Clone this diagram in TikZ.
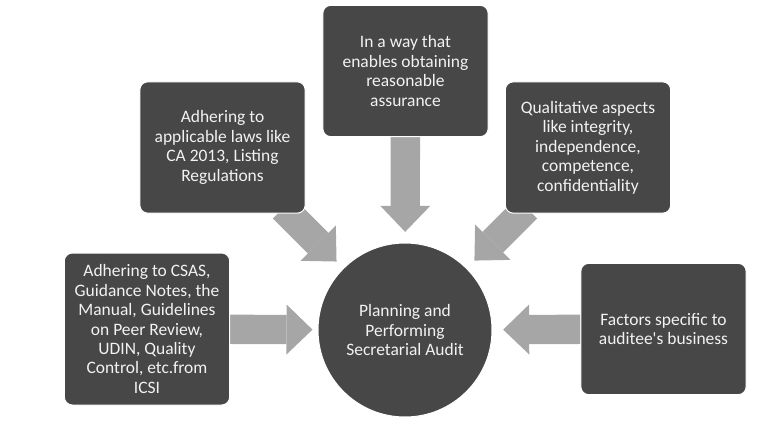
\documentclass[tikz,border=0pt]{standalone}
\usepackage{fontspec}
\setmainfont{Carlito}
\usetikzlibrary{arrows.meta,backgrounds,calc}
\definecolor{boxgray}{RGB}{71,71,71}
\definecolor{arrowgray}{RGB}{166,166,166}
\definecolor{textwhite}{RGB}{242,242,240}

\begin{document}
\begin{tikzpicture}[x=0.75pt,y=-0.75pt,
        box/.style={draw=white,line width=0.75pt,fill=boxgray,text=textwhite,
            rounded corners=6pt,align=center,inner sep=0pt,
            minimum width=124pt,minimum height=98.5pt,
            font=\fontsize{13.1}{14.6}\selectfont},
        hub/.style={box,circle,minimum size=130.5pt},
        bigarrow/.style={arrowgray,line width=22pt,
            -{Triangle[length=19.5pt,width=37.5pt,line width=0pt]}}]
    \useasboundingbox (0,0) rectangle (768,421);
    \node[box,minimum height=114pt] (csas) at (147,329)
        {Adhering to CSAS,\\Guidance Notes, the\\Manual, Guidelines\\on Peer Review,\\UDIN, Quality\\Control, etc.from\\ICSI};
    \node[box] (laws) at (222.5,147.5)
        {Adhering to\\applicable laws like\\CA 2013, Listing\\Regulations};
    \node[box] (assurance) at (405.5,71)
        {In a way that\\enables obtaining\\reasonable\\assurance};
    \node[box] (quality) at (588,147.5)
        {Qualitative aspects\\like integrity,\\independence,\\competence,\\confidentiality};
    \node[box] (factors) at (663.5,329)
        {Factors specific to\\auditee\textquotesingle s business};
    \node[hub] (audit) at (405,330)
        {Planning and\\Performing\\Secretarial Audit};
    \begin{scope}[on background layer]
        \draw[bigarrow,shorten >=3.75pt] (csas) -- (audit);
        \draw[bigarrow,shorten >=8pt] (factors) -- (audit);
        \draw[bigarrow,shorten >=8pt] (assurance) -- (audit);
        \draw[bigarrow,shorten >=7pt] ($(audit.135)+(-60,-60)$) -- (audit.135);
        \draw[bigarrow,shorten >=8pt] ($(audit.45)+(60,-60)$) -- (audit.45);
    \end{scope}
\end{tikzpicture}
\end{document}
